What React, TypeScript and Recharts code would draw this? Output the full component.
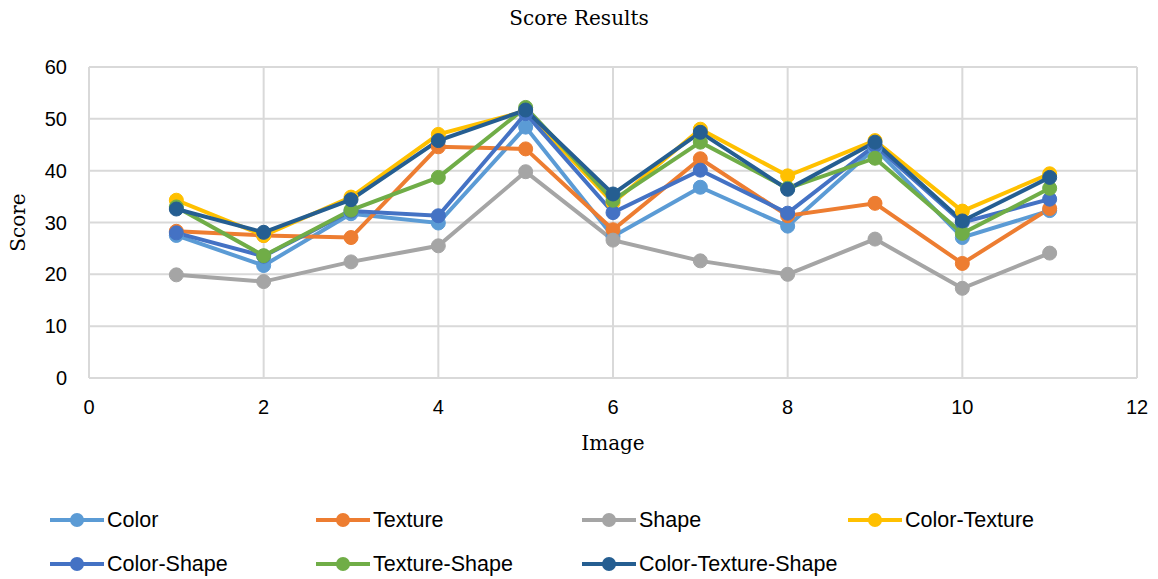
import React from 'react'
import { LineChart, Line, XAxis, YAxis, CartesianGrid, Legend } from 'recharts'

const images = [1, 2, 3, 4, 5, 6, 7, 8, 9, 10, 11]

const color = [27.5, 21.7, 31.7, 29.9, 48.4, 27.3, 36.8, 29.3, 44.3, 27.1, 32.3]
const texture = [28.3, 27.5, 27.1, 44.6, 44.2, 28.6, 42.3, 31.3, 33.7, 22.1, 32.7]
const shape = [19.9, 18.6, 22.4, 25.5, 39.8, 26.6, 22.6, 20.0, 26.8, 17.3, 24.1]
const colorTexture = [34.3, 27.5, 34.9, 47.0, 51.5, 33.8, 48.0, 39.0, 45.8, 32.2, 39.4]
const colorShape = [28.0, 23.5, 32.2, 31.3, 51.0, 31.9, 40.1, 31.8, 44.9, 30.0, 34.5]
const textureShape = [33.0, 23.6, 32.4, 38.7, 52.2, 34.3, 45.5, 36.6, 42.4, 27.9, 36.6]
const colorTextureShape = [32.6, 28.1, 34.4, 45.8, 51.7, 35.5, 47.4, 36.4, 45.5, 30.3, 38.7]

const xTicks = [0, 2, 4, 6, 8, 10, 12]
const yTicks = [0, 10, 20, 30, 40, 50, 60]

const series = [
  { key: 'Color', values: color, stroke: '#5B9BD5' },
  { key: 'Texture', values: texture, stroke: '#ED7D31' },
  { key: 'Shape', values: shape, stroke: '#A5A5A5' },
  { key: 'Color-Texture', values: colorTexture, stroke: '#FFC000' },
  { key: 'Color-Shape', values: colorShape, stroke: '#4472C4' },
  { key: 'Texture-Shape', values: textureShape, stroke: '#70AD47' },
  { key: 'Color-Texture-Shape', values: colorTextureShape, stroke: '#255E91' },
]

const data = images.map((img, i) => {
  const row: any = { img }
  series.forEach(s => { row[s.key] = s.values[i] })
  return row
})

const sans = '"Liberation Sans", sans-serif'
const serif = '"DejaVu Serif", serif'

function LegendBox() {
  return (
    <div style={{ height: 90, width: 1158, position: 'relative', fontFamily: sans, fontSize: 21.5 }}>
      {series.map((s, i) => {
        const col = i < 4 ? i : i - 4
        const row = i < 4 ? 0 : 1
        return (
          <div key={s.key} style={{ position: 'absolute', left: 50 + col * 266, top: row * 44 + 18, height: 26, display: 'flex', alignItems: 'center' }}>
            <svg width={56} height={16}>
              <line x1={0} y1={8} x2={54} y2={8} stroke={s.stroke} strokeWidth={4} />
              <circle cx={27} cy={8} r={7} fill={s.stroke} />
            </svg>
            <span style={{ color: '#000', marginLeft: 1 }}>{s.key}</span>
          </div>
        )
      })}
    </div>
  )
}

export default function App() {
  return (
    <div style={{ position: 'absolute', left: 0, top: 0, width: 1158, height: 579, background: '#fff' }}>
      <div style={{ position: 'absolute', top: 6, width: 1158, textAlign: 'center', fontFamily: serif, fontSize: 20, color: '#000' }}>
        Score Results
      </div>
      <LineChart width={1158} height={579} data={data} margin={{ top: 67, right: 21, bottom: 0, left: 0 }}>
        <CartesianGrid stroke="#d9d9d9" strokeWidth={2} />
        <XAxis
          dataKey="img"
          type="number"
          domain={[0, 12]}
          ticks={xTicks}
          height={111}
          tickLine={false}
          axisLine={{ stroke: '#d9d9d9', strokeWidth: 2 }}
          tickMargin={16}
          tick={{ fill: '#000', fontFamily: sans, fontSize: 20 }}
          label={{ value: 'Image', position: 'insideTop', offset: 58, fill: '#000', fontFamily: serif, fontSize: 20 }}
        />
        <YAxis
          type="number"
          domain={[0, 60]}
          ticks={yTicks}
          width={89}
          tickLine={false}
          axisLine={false}
          tickMargin={16}
          tick={{ fill: '#000', fontFamily: sans, fontSize: 20 }}
          label={{
            content: (props: any) => {
              const vb = props.viewBox || { y: 67, height: 311 }
              const cy = vb.y + vb.height / 2
              return (
                <text x={25} y={cy} transform={`rotate(-90, 25, ${cy})`} textAnchor="middle" fill="#000" fontFamily={serif} fontSize={20}>
                  Score
                </text>
              )
            },
          }}
        />
        <Legend verticalAlign="bottom" content={() => <LegendBox />} />
        {series.map(s => (
          <Line
            key={s.key}
            type="linear"
            dataKey={s.key}
            stroke={s.stroke}
            strokeWidth={4}
            dot={{ r: 7, fill: s.stroke, stroke: s.stroke, strokeWidth: 1 }}
            activeDot={false}
            isAnimationActive={false}
          />
        ))}
      </LineChart>
    </div>
  )
}
